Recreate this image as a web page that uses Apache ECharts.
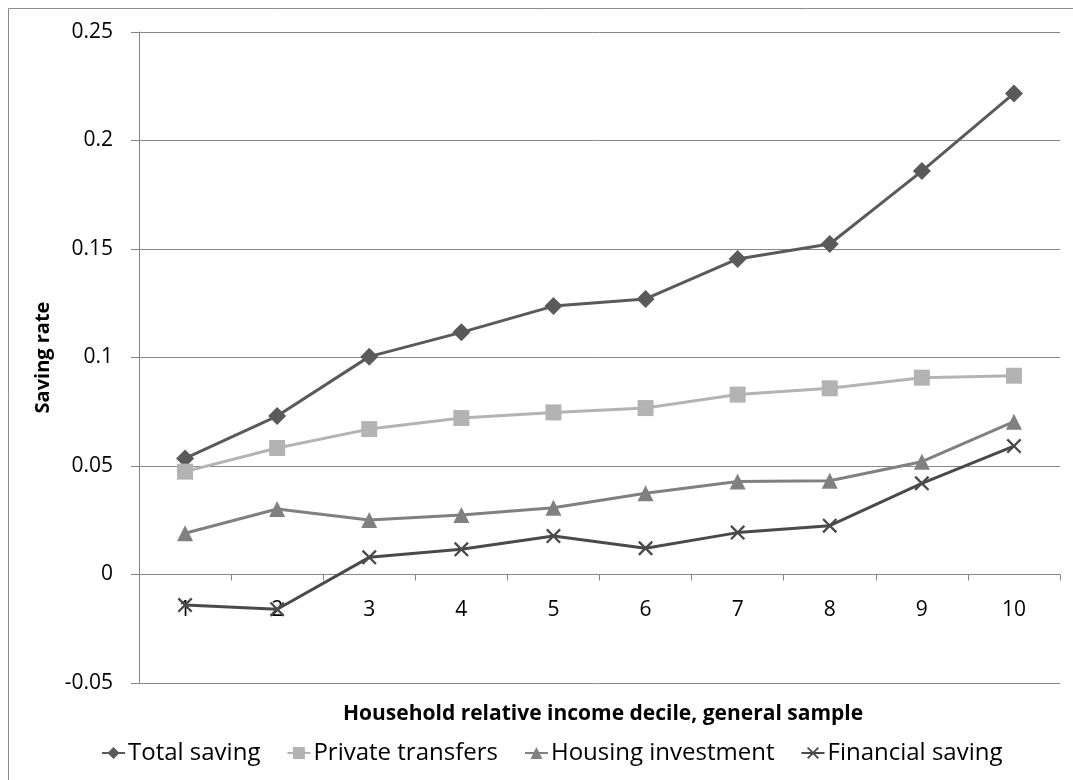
<!DOCTYPE html>
<html>
<head>
<meta charset="utf-8">
<script src="https://cdn.jsdelivr.net/npm/echarts@6/dist/echarts.min.js"></script>
<style>
  html, body { margin: 0; padding: 0; background: #fff; }
  #chart { width: 1073px; height: 780px; }
</style>
</head>
<body>
<div id="chart"></div>
<script>
// Income deciles on the x axis
const deciles = ['1', '2', '3', '4', '5', '6', '7', '8', '9', '10'];

// Saving rates by decile
const totalSaving      = [0.0535, 0.0730, 0.1004, 0.1116, 0.1237, 0.1270, 0.1454, 0.1523, 0.1859, 0.2217];
const privateTransfers = [0.0474, 0.0583, 0.0670, 0.0721, 0.0747, 0.0767, 0.0829, 0.0858, 0.0907, 0.0916];
const housingInvest    = [0.0190, 0.0302, 0.0251, 0.0274, 0.0308, 0.0374, 0.0429, 0.0432, 0.0520, 0.0704];
const financialSaving  = [-0.0141, -0.0160, 0.0079, 0.0116, 0.0177, 0.0121, 0.0193, 0.0225, 0.0420, 0.0592];

// Value axis range and step
const yMin = -0.05, yMax = 0.25, yStep = 0.05;

const FONT = "'Open Sans', 'Liberation Sans', sans-serif";
const CROSS = 'path://M0,1.1L1.1,0L10,8.9L8.9,10Z M8.9,0L10,1.1L1.1,10L0,8.9Z';

const chart = echarts.init(document.getElementById('chart'), null, { renderer: 'canvas' });

function lineSeries(name, data, color, symbol, size) {
  return {
    name, type: 'line', data,
    symbol, symbolSize: size,
    lineStyle: { color, width: 3 },
    itemStyle: { color },
    emphasis: { disabled: true },
    z: 3
  };
}

chart.setOption({
  animation: false,
  backgroundColor: '#fff',
  graphic: [{
    type: 'rect',
    shape: { x: 8.5, y: 8.5, width: 1100, height: 800 },
    style: { fill: 'none', stroke: '#8c8c8c', lineWidth: 1 },
    silent: true
  }, {
    // horizontal axis title
    type: 'text',
    left: 343,
    top: 704,
    style: {
      text: 'Household relative income decile, general sample',
      font: "bold 21px 'Open Sans', 'Liberation Sans', sans-serif",
      fill: '#000'
    },
    silent: true
  }],
  grid: { left: 139, right: 13, top: 32, bottom: 97, containLabel: false, outerBoundsMode: 'none' },
  xAxis: {
    type: 'category',
    data: deciles,
    boundaryGap: true,
    axisLine: { onZero: true, lineStyle: { color: '#868686', width: 1 } },
    axisTick: { show: true, length: 6, lineStyle: { color: '#868686' } },
    // labels sit just below the zero line
    axisLabel: { fontFamily: FONT, fontSize: 21, color: '#000', margin: -83 },
    splitLine: { show: false }
  },
  yAxis: {
    type: 'value',
    min: yMin, max: yMax, interval: yStep,
    name: 'Saving rate',
    nameLocation: 'middle',
    nameGap: 86,
    nameRotate: 90,
    nameTextStyle: { fontFamily: FONT, fontWeight: 'bold', fontSize: 20, color: '#000' },
    axisLine: { show: true, lineStyle: { color: '#868686', width: 1 } },
    axisTick: { show: true, length: 8, lineStyle: { color: '#868686' } },
    axisLabel: {
      fontFamily: FONT, fontSize: 21, color: '#000', margin: 26,
      formatter: v => String(+v.toFixed(2))
    },
    splitLine: { show: true, lineStyle: { color: '#878787', width: 1 } }
  },
  legend: {
    top: 736,
    left: 96,
    itemWidth: 23,
    itemHeight: 15,
    itemGap: 26,
    textStyle: { fontFamily: FONT, fontSize: 24, color: '#000', padding: [0, 0, 0, -2] },
    data: ['Total saving', 'Private transfers', 'Housing investment', 'Financial saving']
  },
  series: [
    lineSeries('Total saving', totalSaving, '#5a5a5a', 'diamond', 18),
    lineSeries('Private transfers', privateTransfers, '#b3b3b3', 'rect', 16),
    lineSeries('Housing investment', housingInvest, '#808080', 'triangle', 16),
    lineSeries('Financial saving', financialSaving, '#4a4a4a', CROSS, 15)
  ]
});
</script>
</body>
</html>
